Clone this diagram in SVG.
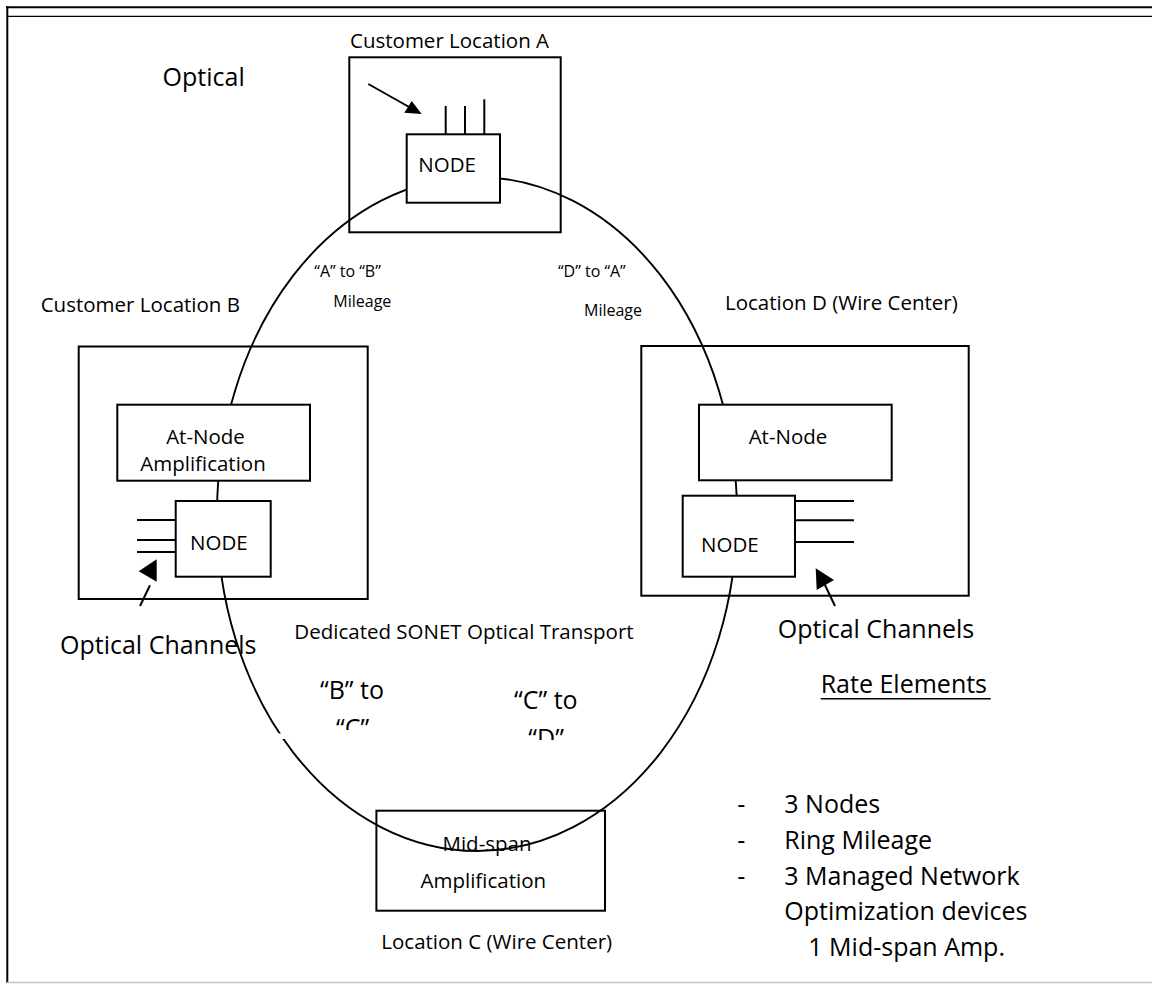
<svg xmlns="http://www.w3.org/2000/svg" width="1152" height="984" viewBox="0 0 1152 984">
<style>
text{font-family:"Open Sans","Liberation Sans",sans-serif;fill:#000}
.s{font-size:16px}
.m{font-size:20.5px}
.l{font-size:25px}
.c{text-anchor:middle}
.box{fill:none;stroke:#000;stroke-width:2}
.wbox{fill:#fff;stroke:#000;stroke-width:2}
.ln{stroke:#000;stroke-width:2;fill:none}
.ring{fill:none;stroke:#000;stroke-width:1.9}
.head{fill:#000;stroke:none}
</style>
<defs>
<clipPath id="clipC"><rect x="300" y="700" width="120" height="30"/></clipPath>
<clipPath id="clipD"><rect x="500" y="712" width="120" height="28"/></clipPath>
</defs>
<rect x="0" y="0" width="1152" height="984" fill="#fff"/>
<g id="frame">
<line x1="6" y1="7.3" x2="1152" y2="7.3" stroke="#000" stroke-width="2"/>
<line x1="7" y1="16.3" x2="1152" y2="16.3" stroke="#000" stroke-width="1.2"/>
<line x1="7.3" y1="6.3" x2="7.3" y2="983" stroke="#000" stroke-width="2"/>
<line x1="7" y1="982.5" x2="1152" y2="982.5" stroke="#c4c4c4" stroke-width="1.5"/>
</g>
<g id="locA">
<rect class="box" x="349.3" y="57.3" width="211.4" height="175"/>
<text class="m" x="350" y="48.3">Customer Location A</text>
</g>
<g id="locB">
<rect class="box" x="78.7" y="346.5" width="289" height="252.5"/>
<text class="m" x="40.7" y="311.7">Customer Location B</text>
</g>
<g id="locD">
<rect class="box" x="641.3" y="346" width="327.4" height="249.7"/>
<text class="m" x="725" y="310">Location D (Wire Center)</text>
</g>
<g id="connectors">
<ellipse class="ring" cx="477" cy="514" rx="260" ry="337"/>
<rect x="276.5" y="733.5" width="8" height="5.5" fill="#fff"/>
<line class="ln" x1="445.7" y1="106" x2="445.7" y2="134.3"/>
<line class="ln" x1="465" y1="106" x2="465" y2="134.3"/>
<line class="ln" x1="484.3" y1="99.3" x2="484.3" y2="134.3"/>
<line class="ln" x1="137" y1="520" x2="175.7" y2="520"/>
<line class="ln" x1="137" y1="540" x2="175.7" y2="540"/>
<line class="ln" x1="137" y1="552" x2="175.7" y2="552"/>
<line class="ln" x1="795" y1="501" x2="854" y2="501"/>
<line class="ln" x1="795" y1="520.3" x2="854" y2="520.3"/>
<line class="ln" x1="795" y1="542" x2="854" y2="542"/>
<line class="ln" x1="368.3" y1="84" x2="410" y2="107.5"/>
<polygon class="head" points="421.7,114 404.3,112.7 411.7,101"/>
<line class="ln" x1="140" y1="606" x2="150" y2="585.3"/>
<polygon class="head" points="138.7,571.3 156.7,559.3 156.7,581.7"/>
<line class="ln" x1="835" y1="606" x2="824" y2="583"/>
<polygon class="head" points="815.7,568.3 816.7,590 834,580"/>
</g>
<g id="nodeA">
<rect class="wbox" x="406.7" y="134.3" width="93.3" height="68.4"/>
<text class="m" x="418.3" y="172.3">NODE</text>
</g>
<g id="ampB">
<rect class="wbox" x="117.3" y="404.7" width="192.7" height="76"/>
<text class="m c" x="205.5" y="444.3">At-Node</text>
<text class="m c" x="203" y="470.7">Amplification</text>
</g>
<g id="nodeB">
<rect class="wbox" x="175.7" y="501" width="95" height="75.7"/>
<text class="m" x="190" y="550">NODE</text>
</g>
<g id="ampD">
<rect class="wbox" x="699" y="404.7" width="192.7" height="75.6"/>
<text class="m c" x="788" y="444.3">At-Node</text>
</g>
<g id="nodeD">
<rect class="wbox" x="682.7" y="495.7" width="112.3" height="81"/>
<text class="m" x="701" y="551.7">NODE</text>
</g>
<g id="midspan">
<rect class="box" x="376.4" y="810.7" width="228.6" height="100"/>
<text class="m c" x="487" y="850.7">Mid-span</text>
<text class="m c" x="483.3" y="887.7">Amplification</text>
<text class="m c" x="496.7" y="949">Location C (Wire Center)</text>
</g>
<g id="labels">
<text class="l" x="162.6" y="86">Optical</text>
<text class="s" x="314.3" y="277.3">“A” to “B”</text>
<text class="s" x="333.3" y="307.3">Mileage</text>
<text class="s" x="558" y="277.3">“D” to “A”</text>
<text class="s" x="584" y="315.7">Mileage</text>
<text class="l" x="60" y="654">Optical Channels</text>
<text class="l" x="777.7" y="638.3">Optical Channels</text>
<text class="m c" x="464" y="639.3">Dedicated SONET Optical Transport</text>
<text class="l" x="320" y="699">“B” to</text>
<text class="l" x="336" y="737" clip-path="url(#clipC)">“C”</text>
<text class="l" x="514" y="709.3">“C” to</text>
<text class="l" x="528.3" y="747" clip-path="url(#clipD)">“D”</text>
</g>
<g id="rate">
<text class="l" x="820.7" y="693.3">Rate Elements</text>
<line x1="820.7" y1="698.7" x2="990.7" y2="698.7" stroke="#000" stroke-width="1.5"/>
<text class="l" x="737.3" y="813.3">-</text>
<text class="l" x="737.3" y="849">-</text>
<text class="l" x="737.3" y="885">-</text>
<text class="l" x="784.3" y="813.3">3 Nodes</text>
<text class="l" x="784.3" y="849">Ring Mileage</text>
<text class="l" x="784.3" y="885">3 Managed Network</text>
<text class="l" x="784.3" y="920">Optimization devices</text>
<text class="l" x="808.3" y="956">1 Mid-span Amp.</text>
</g>
</svg>
